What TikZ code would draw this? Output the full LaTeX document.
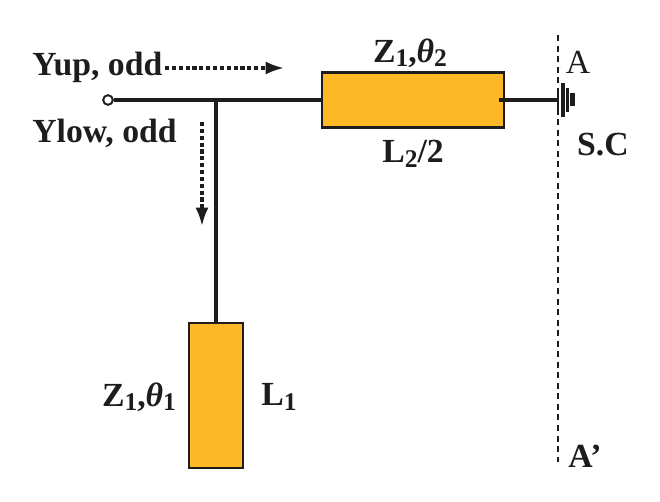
\documentclass[tikz,border=0pt]{standalone}
\usepackage{fontspec}
\setmainfont{Liberation Serif}
\usetikzlibrary{arrows.meta}
\definecolor{stubfill}{RGB}{253,184,39}
\definecolor{inkblack}{RGB}{30,28,28}
\newcommand{\subn}[1]{\raisebox{-.28ex}{\fontsize{14.5}{15}\selectfont #1}}
\tikzset{
	lbl/.style={font=\fontsize{19.2}{22}\selectfont\bfseries, text=inkblack, inner sep=0pt},
	stub/.style={draw=inkblack, line width=1.4pt, fill=stubfill, minimum width=#1, inner sep=0pt},
	wire/.style={draw=inkblack, line width=1.75pt},
	flow/.style={draw=inkblack, line width=1.75pt, dash pattern=on 2.4pt off 1.5pt, -{Latex[length=10.5pt,width=7.5pt]}}
}
\begin{document}
\begin{tikzpicture}[x=0.02cm,y=-0.02cm]
\useasboundingbox (0,0) rectangle (660,502);
\path (413,100) node[stub=3.64cm, minimum height=1.1cm] (s2) {}
		(216,395.5) node[stub=1.08cm, minimum height=2.9cm] (s1) {}
		(499,100) coordinate (s2in)
		(108,100) node[circle, draw=inkblack, line width=1.1pt, fill=white, inner sep=0pt, minimum size=5.5pt] (port) {}
		(216,100) coordinate (tee)
		(558,100) coordinate (gnd)
		(558,35) coordinate (cuttop)
		(558,462) coordinate (cutbot)
		(165,68) coordinate (upa)
		(284,68) coordinate (upb)
		(202,122) coordinate (lowa)
		(202,226) coordinate (lowb)
		(32,67) node[lbl, anchor=west] (yup) {Yup, odd}
		(32,133) node[lbl, anchor=west] (ylow) {Ylow, odd}
		(410,53) node[lbl] (z2) {Z\subn{1},\textit{θ}\subn{2}}
		(413,154) node[lbl] (l2) {L\subn{2}/2}
		(139,397) node[lbl] (z1) {Z\subn{1},\textit{θ}\subn{1}}
		(279,397) node[lbl] (l1) {L\subn{1}}
		(578,62) node[lbl, font=\fontsize{19.2}{22}\selectfont] (a) {A}
		(603,145) node[lbl] (sc) {S.C}
		(585,456) node[lbl] (ap) {A’};
\draw[wire] (port) -- (s2);
\draw[wire] (tee) -- (s1);
\draw[wire] (s2in) -- (gnd);
\draw[inkblack, line width=1.3pt, dash pattern=on 3.4pt off 2.6pt] (cuttop) -- (cutbot);
\draw[flow] (upa) -- (upb);
\draw[flow] (lowa) -- (lowb);
% ground bars
\foreach \gx/\gh/\gw in {558/10/1.7, 563/17/1.8, 567.5/12/1.8, 572.7/6.5/2.8}
	\draw[inkblack, line width=\gw pt] (\gx,100-\gh) -- (\gx,100+\gh);
\end{tikzpicture}
\end{document}
